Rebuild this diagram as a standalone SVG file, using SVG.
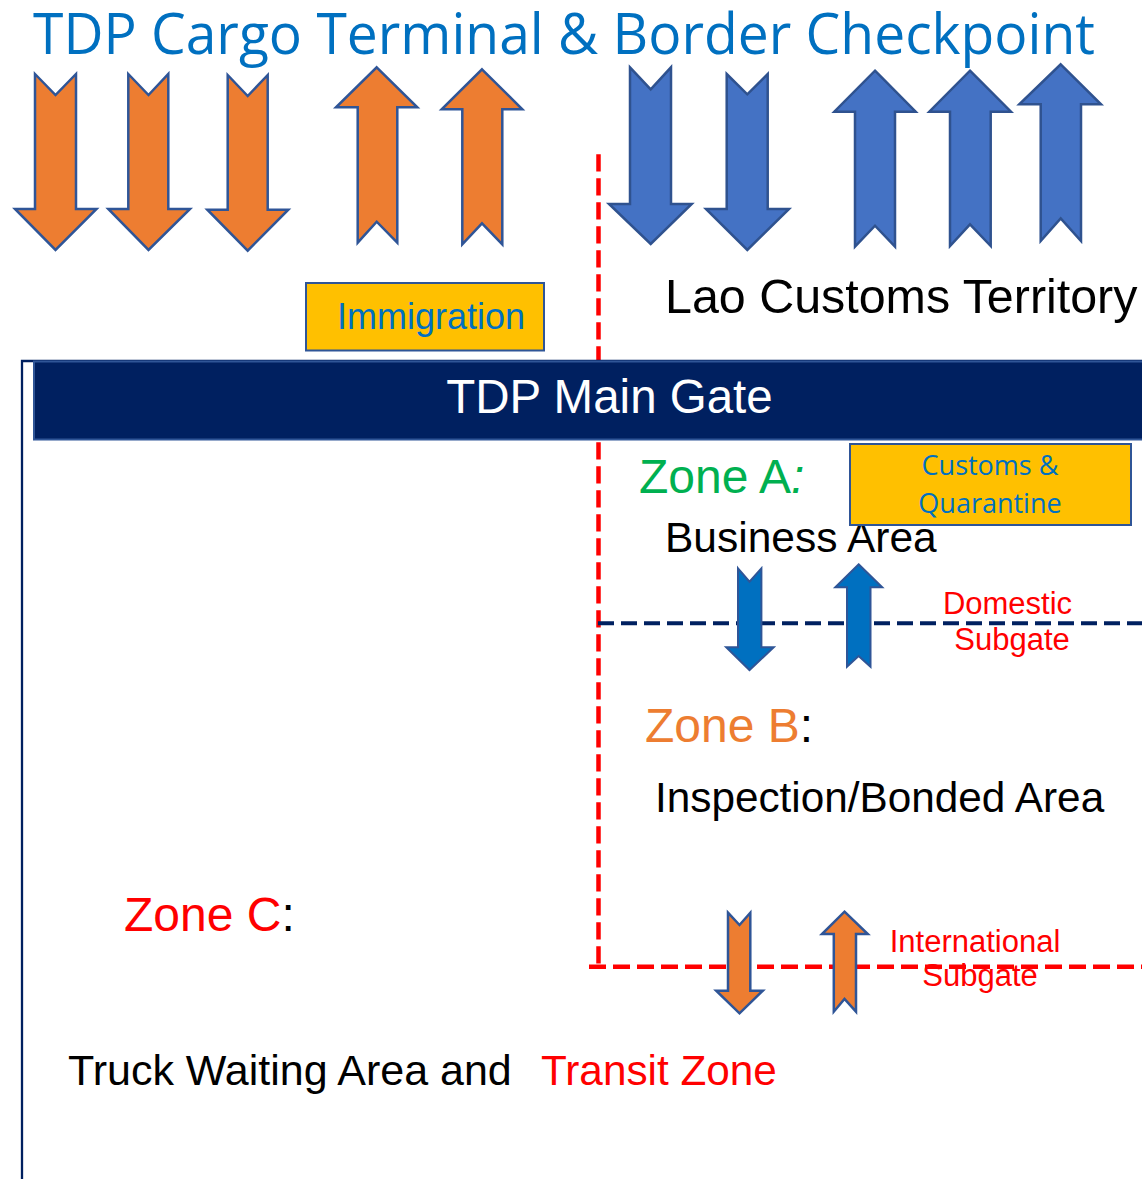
<svg xmlns="http://www.w3.org/2000/svg" width="1142" height="1179" viewBox="0 0 1142 1179">
<style>
.orange{fill:#ED7D31;stroke:#2F5597;stroke-width:2.5;stroke-linejoin:miter}
.blue{fill:#4472C4;stroke:#2F528F;stroke-width:2.5;stroke-linejoin:miter}
.sblue{fill:#0070C0;stroke:#2F5597;stroke-width:2}
.box{fill:#FFC000;stroke:#2F5597;stroke-width:2}
.sans{font-family:"Liberation Sans",Arial,sans-serif}
.cal{font-family:"Open Sans","Noto Sans",sans-serif}
.red{fill:#FF0000}
.blk{fill:#000000}
</style>
<rect width="1142" height="1179" fill="#FFFFFF"/>

<g id="title">
<text x="33" y="54" class="cal" font-size="56" fill="#0070C0" textLength="1062" lengthAdjust="spacingAndGlyphs">TDP Cargo Terminal &amp; Border Checkpoint</text>
</g>

<g id="connectors">
<line x1="598.5" y1="154.3" x2="598.5" y2="966" stroke="#FF0000" stroke-width="4.5" stroke-dasharray="17.3 6.7"/>
<line x1="598" y1="623.3" x2="1142" y2="623.3" stroke="#002060" stroke-width="4" stroke-dasharray="16 7"/>
<line x1="589" y1="966.7" x2="1142" y2="966.7" stroke="#FF0000" stroke-width="4.5" stroke-dasharray="17 7"/>
</g>

<g id="top-arrows">
<polygon class="orange" points="35,74 55.5,95 76,74 76,209 96.5,209 55.5,250 15,209 35,209"/>
<polygon class="orange" points="128.3,74 148.5,95 168.3,74 168.3,209 190,209 148.5,250 108.3,209 128.3,209"/>
<polygon class="orange" points="227.7,75 247.7,96 267.7,75 267.7,209.7 288.3,209.7 247.7,250.7 207.3,209.7 227.7,209.7"/>
<polygon class="orange" points="376.7,67.3 417.3,107.3 397.3,107.3 397.3,242.7 376.7,221.7 357.7,242.7 357.7,107.3 336,107.3"/>
<polygon class="orange" points="482,69.3 522.3,109.3 502.3,109.3 502.3,244.3 482,223.3 462.3,244.3 462.3,109.3 441.7,109.3"/>
<polygon class="blue" points="630,67.3 650.7,89.3 671,67.3 671,204 691.7,204 650.7,244 609,204 630,204"/>
<polygon class="blue" points="726.7,74 747.3,94.3 767.7,74 767.7,209 789,209 747.3,250 706,209 726.7,209"/>
<polygon class="blue" points="875,70.7 915.7,111.7 895,111.7 895,246.7 875,225.7 855,246.7 855,111.7 834.3,111.7"/>
<polygon class="blue" points="970,70.7 1011,111.7 990.7,111.7 990.7,246 970,224.3 950,246 950,111.7 929.3,111.7"/>
<polygon class="blue" points="1060.7,64.3 1101,104.3 1081,104.3 1081,241 1060.7,218.3 1040.7,241 1040.7,104.3 1019.3,104.3"/>
</g>

<g id="immigration">
<rect class="box" x="306" y="283" width="238" height="67.5"/>
<text x="337" y="329" class="sans" font-size="36" fill="#0070C0">Immigration</text>
</g>

<g id="lao-customs">
<text x="665" y="313" class="sans blk" font-size="48.4">Lao Customs Territory</text>
</g>

<g id="main-gate">
<polyline points="22,1179 22,361 1142,361" fill="none" stroke="#002060" stroke-width="2.3"/>
<rect x="34" y="361.5" width="1112" height="78" fill="#002060" stroke="#2F5597" stroke-width="2"/>
<text x="609.5" y="413" class="sans" font-size="47.5" fill="#FFFFFF" text-anchor="middle">TDP Main Gate</text>
</g>

<g id="zone-a">
<text x="639" y="493" class="sans" font-size="48" fill="#00B050">Zone A<tspan font-style="italic">:</tspan></text>
<text x="665" y="552" class="sans blk" font-size="42.5">Business Area</text>
</g>

<g id="customs-quarantine">
<rect class="box" x="850" y="444" width="281" height="81"/>
<text x="990" y="475" class="cal" font-size="27" fill="#0070C0" text-anchor="middle">Customs &amp;</text>
<text x="990" y="513" class="cal" font-size="27" fill="#0070C0" text-anchor="middle">Quarantine</text>
</g>

<g id="domestic-subgate">
<polygon class="sblue" points="738,568.3 749.5,581.7 761.4,568.3 761.4,647.3 773.7,647.3 749.5,670 726.2,647.3 738,647.3"/>
<polygon class="sblue" points="858.6,564.3 882.2,587.3 870.5,587.3 870.5,666.7 858.6,656 847,666.7 847,587.3 835.3,587.3"/>
<text x="1007.5" y="613.5" class="sans red" font-size="31" text-anchor="middle">Domestic</text>
<text x="1012" y="650" class="sans red" font-size="31" text-anchor="middle">Subgate</text>
</g>

<g id="zone-b">
<text x="645" y="742" class="sans" font-size="48" fill="#ED7D31">Zone B<tspan class="blk">:</tspan></text>
<text x="655" y="812" class="sans blk" font-size="42.3">Inspection/Bonded Area</text>
</g>

<g id="international-subgate">
<polygon class="orange" points="728,912.7 739.5,925 750.3,912.7 750.3,990.7 762.8,990.7 739.5,1013.3 716.2,990.7 728,990.7"/>
<polygon class="orange" points="844.5,911.7 867.8,934 856,934 856,1011.7 844.5,999 833.8,1011.7 833.8,934 822,934"/>
<text x="975" y="952" class="sans red" font-size="31" text-anchor="middle">International</text>
<text x="980" y="986" class="sans red" font-size="31" text-anchor="middle">Subgate</text>
</g>

<g id="zone-c">
<text x="124" y="931" class="sans red" font-size="48">Zone C<tspan class="blk">:</tspan></text>
<text x="68" y="1085" class="sans blk" font-size="43">Truck Waiting Area and</text>
<text x="541" y="1085" class="sans red" font-size="42.3">Transit Zone</text>
</g>
</svg>
